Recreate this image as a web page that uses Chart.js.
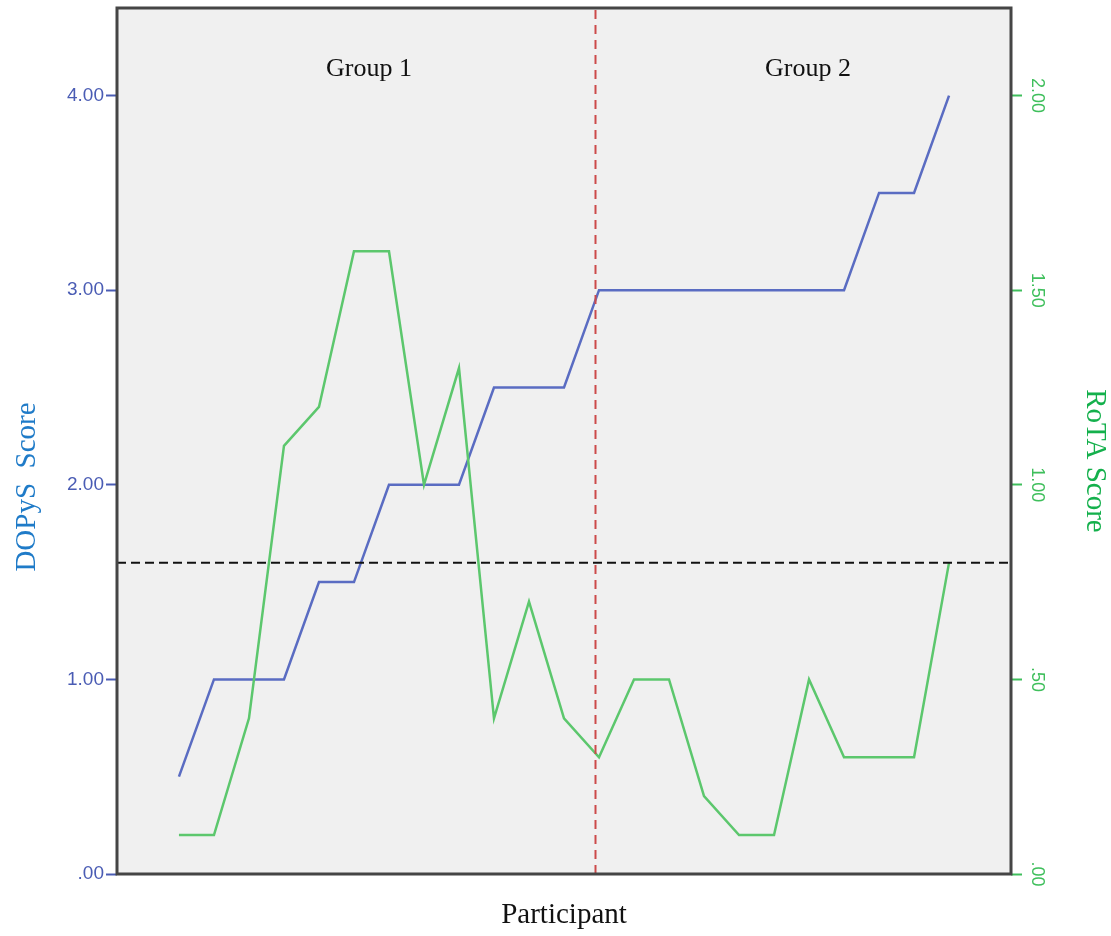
<!DOCTYPE html>
<html>
<head>
<meta charset="utf-8">
<title>DOPyS and RoTA scores by participant</title>
<script src="https://cdn.jsdelivr.net/npm/chart.js@4/dist/chart.umd.min.js"></script>
<style>
    html, body { margin: 0; padding: 0; background: #ffffff; }
    #wrap { width: 1111px; height: 936px; }
</style>
</head>
<body>
<div id="wrap"><canvas id="myChart" width="1111" height="936"></canvas></div>
<script>
// Participants 1..23
const participants = [1, 2, 3, 4, 5, 6, 7, 8, 9, 10, 11, 12, 13, 14, 15, 16, 17, 18, 19, 20, 21, 22, 23];

// DOPyS score (left axis)
const dopysScores = [0.5, 1.0, 1.0, 1.0, 1.5, 1.5, 2.0, 2.0, 2.0, 2.5, 2.5, 2.5, 3.0, 3.0, 3.0, 3.0, 3.0, 3.0, 3.0, 3.0, 3.5, 3.5, 4.0];

// RoTA score (right axis)
const rotaScores = [0.1, 0.1, 0.4, 1.1, 1.2, 1.6, 1.6, 1.0, 1.3, 0.4, 0.7, 0.4, 0.3, 0.5, 0.5, 0.2, 0.1, 0.1, 0.5, 0.3, 0.3, 0.3, 0.8];

// reference lines
const cutoffDopys = 1.6;
const groupSplit = 12.9;

// group labels and where they sit on the participant axis
const groupLabels = ['Group 1', 'Group 2'];
const groupLabelX = [6.43, 18.97];

// axis ranges / ticks
const xRange = [-0.77, 24.77];
const dopysRange = [0, 4.45];
const rotaRange = [0, 2.225];
const rotaTicks = [0, 0.5, 1.0, 1.5, 2.0];

function fmt(v) {
    const s = v.toFixed(2);
    return s.startsWith('0') ? s.slice(1) : s;
}

const BLUE_TICK = '#4a5cb4';
const GREEN_TICK = '#3fbf5c';

// plot background, frame, group labels, rotated right-axis labels and axis titles
const decorations = {
    id: 'decorations',
    beforeDraw(chart) {
        const { ctx, chartArea: a } = chart;
        ctx.save();
        ctx.fillStyle = '#f0f0f0';
        ctx.fillRect(a.left, a.top, a.right - a.left, a.bottom - a.top);
        ctx.restore();
    },
    afterDatasetsDraw(chart) {
        const { ctx, chartArea: a, scales } = chart;
        ctx.save();
        ctx.strokeStyle = '#454545';
        ctx.lineWidth = 3;
        ctx.strokeRect(a.left, a.top, a.right - a.left, a.bottom - a.top);

        // group labels
        ctx.fillStyle = '#111111';
        ctx.font = '26px "Liberation Serif"';
        ctx.textAlign = 'center';
        ctx.textBaseline = 'alphabetic';
        groupLabels.forEach((txt, i) => {
            ctx.fillText(txt, scales.x.getPixelForValue(groupLabelX[i]), 76);
        });

        // right axis tick labels, rotated
        ctx.fillStyle = GREEN_TICK;
        ctx.font = '18px "Liberation Sans"';
        ctx.textBaseline = 'middle';
        rotaTicks.forEach(v => {
            const y = scales.y2.getPixelForValue(v);
            ctx.save();
            ctx.translate(1037, y);
            ctx.rotate(Math.PI / 2);
            ctx.fillText(fmt(v), 0, 0);
            ctx.restore();
        });

        // axis titles
        ctx.font = '29px "Liberation Serif"';
        ctx.textBaseline = 'alphabetic';
        ctx.fillStyle = '#1f7bc8';
        ctx.save();
        ctx.translate(35, 487);
        ctx.rotate(-Math.PI / 2);
        ctx.fillText('DOPyS  Score', 0, 0);
        ctx.restore();

        ctx.fillStyle = '#14b04c';
        ctx.save();
        ctx.translate(1087, 461);
        ctx.rotate(Math.PI / 2);
        ctx.fillText('RoTA Score', 0, 0);
        ctx.restore();

        ctx.restore();
    }
};

// y axes: fixed width, and no extra room for the end tick labels
function fixY(width) {
    return s => {
        s.width = width;
        s.paddingTop = 0;
        s.paddingBottom = 0;
    };
}

document.addEventListener('DOMContentLoaded', function() {
    const ctx = document.getElementById('myChart').getContext('2d');

    const dopysPoints = participants.map((p, i) => ({ x: p, y: dopysScores[i] }));
    const rotaPoints = participants.map((p, i) => ({ x: p, y: rotaScores[i] }));

    const myChart = new Chart(ctx, {
        type: 'line',
        data: {
            datasets: [
                {
                    label: 'Group split',
                    data: [{ x: groupSplit, y: dopysRange[0] }, { x: groupSplit, y: dopysRange[1] }],
                    yAxisID: 'y',
                    borderColor: '#cc4a4a',
                    borderWidth: 2,
                    borderDash: [9, 6],
                    pointRadius: 0
                },
                {
                    label: 'Cut-off',
                    data: [{ x: xRange[0], y: cutoffDopys }, { x: xRange[1], y: cutoffDopys }],
                    yAxisID: 'y',
                    borderColor: '#111111',
                    borderWidth: 2,
                    borderDash: [9, 5],
                    pointRadius: 0
                },
                {
                    label: 'RoTA Score',
                    data: rotaPoints,
                    yAxisID: 'y2',
                    borderColor: '#5cc76d',
                    borderWidth: 2.5,
                    pointRadius: 0,
                    tension: 0
                },
                {
                    label: 'DOPyS Score',
                    data: dopysPoints,
                    yAxisID: 'y',
                    borderColor: '#5a6cc2',
                    borderWidth: 2.5,
                    pointRadius: 0,
                    tension: 0
                }
            ]
        },
        options: {
            responsive: false,
            animation: false,
            devicePixelRatio: 1,
            layout: { padding: { top: 8, left: 0, right: 0, bottom: 0 } },
            plugins: {
                legend: { display: false },
                tooltip: { enabled: false }
            },
            scales: {
                x: {
                    type: 'linear',
                    position: 'bottom',
                    min: xRange[0],
                    max: xRange[1],
                    ticks: { display: false },
                    grid: { display: false },
                    border: { display: false },
                    title: {
                        display: true,
                        text: 'Participant',
                        color: '#111111',
                        font: { family: 'Liberation Serif', size: 29 },
                        padding: { top: 0, bottom: 3 }
                    },
                    afterFit: s => { s.height = 62; }
                },
                y: {
                    type: 'linear',
                    position: 'left',
                    min: dopysRange[0],
                    max: dopysRange[1],
                    ticks: {
                        stepSize: 1,
                        includeBounds: false,
                        color: BLUE_TICK,
                        padding: 2,
                        font: { family: 'Liberation Sans', size: 19 },
                        callback: v => fmt(v)
                    },
                    grid: {
                        drawOnChartArea: false,
                        drawTicks: true,
                        tickLength: 11,
                        tickWidth: 2,
                        tickColor: BLUE_TICK
                    },
                    border: { display: false },
                    afterFit: fixY(117)
                },
                y2: {
                    type: 'linear',
                    position: 'right',
                    min: rotaRange[0],
                    max: rotaRange[1],
                    ticks: {
                        stepSize: 0.5,
                        includeBounds: false,
                        display: false
                    },
                    grid: {
                        drawOnChartArea: false,
                        drawTicks: true,
                        tickLength: 11,
                        tickWidth: 2,
                        tickColor: GREEN_TICK
                    },
                    border: { display: false },
                    afterFit: fixY(100)
                }
            }
        },
        plugins: [decorations]
    });
});
</script>
</body>
</html>
